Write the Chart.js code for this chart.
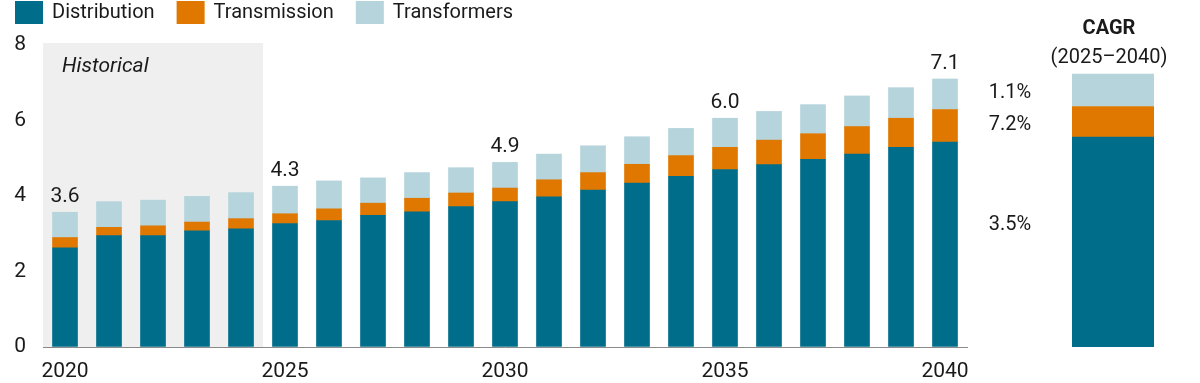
<!DOCTYPE html>
<html>
<head>
<meta charset="utf-8">
<script src="https://cdn.jsdelivr.net/npm/chart.js@4"></script>
<style>
  html, body { margin: 0; padding: 0; background: #ffffff; }
  body { width: 1200px; height: 383px; position: relative; overflow: hidden; }
  #mainWrap { position: absolute; left: 0; top: 0; width: 990px; height: 383px; }
  #cagrWrap { position: absolute; left: 970px; top: 0; width: 230px; height: 383px; }
</style>
</head>
<body>
<div id="mainWrap"><canvas id="main"></canvas></div>
<div id="cagrWrap"><canvas id="cagr"></canvas></div>
<script>
// ---- data ----
const years = ['2020','2021','2022','2023','2024','2025','2026','2027','2028','2029','2030',
               '2031','2032','2033','2034','2035','2036','2037','2038','2039','2040'];
const distribution = [2.63,2.95,2.95,3.08,3.13,3.27,3.35,3.49,3.58,3.72,3.85,3.98,4.16,4.34,4.52,4.70,4.83,4.97,5.11,5.29,5.43];
const transmission = [0.27,0.22,0.26,0.23,0.27,0.26,0.31,0.32,0.36,0.36,0.36,0.45,0.46,0.50,0.55,0.59,0.65,0.68,0.73,0.77,0.86];
const transformers = [0.67,0.68,0.68,0.68,0.69,0.73,0.74,0.67,0.68,0.67,0.68,0.68,0.71,0.73,0.72,0.77,0.76,0.77,0.81,0.81,0.81];
const totalLabelYears = ['2020','2025','2030','2035','2040'];
const totalLabels = ['3.6','4.3','4.9','6.0','7.1'];
const tickYears = ['2020','2025','2030','2035','2040'];
const historicalYears = ['2020','2021','2022','2023','2024'];
const historicalText = 'Historical';
const seriesNames = ['Distribution','Transmission','Transformers'];
const cagrCategory = ['CAGR'];
const cagrTitle = 'CAGR';
const cagrSubtitle = '(2025\u20132040)';
const cagrDistribution = [5.56];
const cagrTransmission = [0.81];
const cagrTransformers = [0.86];
const cagrRates = ['3.5%','7.2%','1.1%'];

// ---- styles ----
const COLORS = ['#006e8a', '#e07800', '#b5d4dc'];
const FONT = 'Roboto, "Noto Sans", sans-serif';
const TEXT = '#1a1a1a';
const AXIS = '#8a8a8a';
const RATE_LABEL_SHIFT = [-17, 3, 3];

Chart.defaults.font.family = FONT;
Chart.defaults.color = TEXT;
Chart.defaults.animation = false;

const legendPlugin = {
  id: 'topLegend',
  afterDraw(chart) {
    const ctx = chart.ctx;
    ctx.save();
    ctx.font = '20px ' + FONT;
    ctx.textBaseline = 'middle';
    ctx.textAlign = 'left';
    let x = 15;
    chart.data.datasets.forEach(ds => {
      ctx.fillStyle = ds.backgroundColor;
      ctx.fillRect(x, 1, 28, 23);
      ctx.fillStyle = TEXT;
      ctx.fillText(ds.label, x + 37, 13);
      x += 37 + ctx.measureText(ds.label).width + 22;
    });
    ctx.restore();
  }
};

const historicalPlugin = {
  id: 'historical',
  beforeDatasetsDraw(chart) {
    const {ctx, chartArea, scales} = chart;
    const xs = scales.x;
    const first = years.indexOf(historicalYears[0]);
    const last = years.indexOf(historicalYears[historicalYears.length - 1]);
    const left = xs.getPixelForValue(first - 0.5);
    const right = xs.getPixelForValue(last + 0.5);
    ctx.save();
    ctx.fillStyle = '#efefef';
    ctx.fillRect(left, chartArea.top - 2, right - left, chartArea.bottom - chartArea.top + 2);
    ctx.fillStyle = TEXT;
    ctx.font = 'italic 21px ' + FONT;
    ctx.textBaseline = 'middle';
    ctx.textAlign = 'left';
    ctx.fillText(historicalText, left + 19, chartArea.top + 22);
    ctx.restore();
  }
};

const totalsPlugin = {
  id: 'totals',
  afterDatasetsDraw(chart) {
    const {ctx, scales} = chart;
    ctx.save();
    ctx.font = '21px ' + FONT;
    ctx.fillStyle = TEXT;
    ctx.textAlign = 'center';
    ctx.textBaseline = 'alphabetic';
    totalLabelYears.forEach((yr, k) => {
      const i = years.indexOf(yr);
      const total = distribution[i] + transmission[i] + transformers[i];
      const x = scales.x.getPixelForValue(i);
      const y = scales.y.getPixelForValue(total);
      ctx.fillText(totalLabels[k], x, y - 10);
    });
    ctx.restore();
  }
};

new Chart(document.getElementById('main'), {
  type: 'bar',
  data: {
    labels: years,
    datasets: [
      { label: seriesNames[0], data: distribution, backgroundColor: COLORS[0] },
      { label: seriesNames[1], data: transmission, backgroundColor: COLORS[1] },
      { label: seriesNames[2], data: transformers, backgroundColor: COLORS[2] }
    ]
  },
  options: {
    responsive: true,
    maintainAspectRatio: false,
    layout: { padding: { left: 0, right: 23, top: 45, bottom: 0 } },
    datasets: { bar: { barThickness: 25, borderWidth: 0 } },
    plugins: { legend: { display: false }, tooltip: { enabled: false } },
    scales: {
      x: {
        stacked: true,
        grid: { display: true, drawOnChartArea: false, drawTicks: false, color: 'transparent' },
        border: { display: true, color: AXIS, width: 1 },
        ticks: {
          autoSkip: false, maxRotation: 0, padding: 12,
          font: { size: 21 }, color: TEXT,
          callback: function(v) { const l = this.getLabelForValue(v); return tickYears.includes(l) ? l : ''; }
        },
        afterFit(scale) { scale.height = 36; }
      },
      y: {
        stacked: true, min: 0, max: 8,
        grid: { display: true, drawOnChartArea: false, drawTicks: false, color: 'transparent' },
        border: { display: true, color: AXIS, width: 1 },
        ticks: { stepSize: 2, padding: 17, font: { size: 21 }, color: TEXT },
        afterFit(scale) { scale.width = 43; }
      }
    }
  },
  plugins: [legendPlugin, historicalPlugin, totalsPlugin]
});

const cagrPlugin = {
  id: 'cagrText',
  afterDatasetsDraw(chart) {
    const {ctx, scales} = chart;
    const cx = scales.x.getPixelForValue(0);
    ctx.save();
    ctx.fillStyle = TEXT;
    ctx.textAlign = 'center';
    ctx.textBaseline = 'middle';
    ctx.font = 'bold 20px ' + FONT;
    ctx.fillText(cagrTitle, cx - 4, 29);
    ctx.font = '20px ' + FONT;
    ctx.fillText(cagrSubtitle, cx - 4, 58);
    let base = 0;
    chart.data.datasets.forEach((ds, i) => {
      const v = ds.data[0];
      const mid = scales.y.getPixelForValue(base + v / 2);
      ctx.fillText(cagrRates[i], 40, mid + RATE_LABEL_SHIFT[i]);
      base += v;
    });
    ctx.restore();
  }
};

new Chart(document.getElementById('cagr'), {
  type: 'bar',
  data: {
    labels: cagrCategory,
    datasets: [
      { label: seriesNames[0], data: cagrDistribution, backgroundColor: COLORS[0] },
      { label: seriesNames[1], data: cagrTransmission, backgroundColor: COLORS[1] },
      { label: seriesNames[2], data: cagrTransformers, backgroundColor: COLORS[2] }
    ]
  },
  options: {
    responsive: true,
    maintainAspectRatio: false,
    layout: { padding: { left: 102, right: 46, top: 45, bottom: 36 } },
    datasets: { bar: { barPercentage: 1, categoryPercentage: 1, borderWidth: 0 } },
    plugins: { legend: { display: false }, tooltip: { enabled: false } },
    scales: {
      x: { stacked: true, display: false },
      y: { stacked: true, display: false, min: 0, max: 8 }
    }
  },
  plugins: [cagrPlugin]
});
</script>
</body>
</html>
